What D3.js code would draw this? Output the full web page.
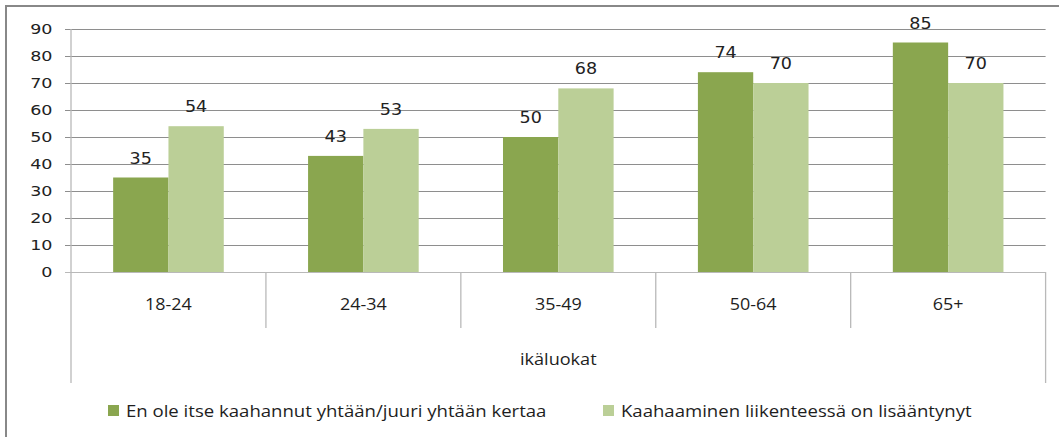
<!DOCTYPE html>
<html>
<head>
<meta charset="utf-8">
<script src="https://cdn.jsdelivr.net/npm/d3@7"></script>
<style>
  html, body { margin: 0; padding: 0; background: #fff; }
  svg { display: block; }
</style>
</head>
<body>
<svg id="chart" width="1059" height="437"></svg>
<script>
"use strict";

// data
var categories = ["18-24", "24-34", "35-49", "50-64", "65+"];
var seriesNames = [
    "En ole itse kaahannut yhtään/juuri yhtään kertaa",
    "Kaahaaminen liikenteessä on lisääntynyt"
];
var seriesDark = [35, 43, 50, 74, 85];
var seriesLight = [54, 53, 68, 70, 70];
var yTicks = [0, 10, 20, 30, 40, 50, 60, 70, 80, 90];
var axisTitle = "ikäluokat";

(function () {
    var colors = ["#8aa64f", "#bbcf97"];
    var series = [seriesDark, seriesLight];

    var svg = d3.select("#chart");

    // stretch text horizontally like the original rendering
    function stretch(sel, k) {
        sel.each(function () {
            var len = this.getComputedTextLength();
            d3.select(this)
                .attr("textLength", len * k)
                .attr("lengthAdjust", "spacingAndGlyphs");
        });
    }

    // outer frame (clipped on the right / bottom in the original)
    svg.append("rect")
        .attr("x", 6).attr("y", 6)
        .attr("width", 1070).attr("height", 450)
        .attr("fill", "#fff")
        .attr("stroke", "#888")
        .attr("stroke-width", 2);

    var plotLeft = 71, plotRight = 1045.6, plotTop = 29, plotBottom = 272;

    var x = d3.scaleBand()
        .domain(categories)
        .range([plotLeft, plotRight]);

    var xs = d3.scaleBand()
        .domain([0, 1])
        .range([0, x.bandwidth()])
        .paddingOuter(0.762);

    var y = d3.scaleLinear()
        .domain([0, 90])
        .range([plotBottom, plotTop]);

    // gridlines
    svg.append("g")
        .selectAll("line")
        .data(yTicks.filter(function (d) { return d > 0; }))
        .enter().append("line")
        .attr("x1", 65).attr("x2", plotRight)
        .attr("y1", function (d) { return Math.round(y(d)) + 0.5; })
        .attr("y2", function (d) { return Math.round(y(d)) + 0.5; })
        .attr("stroke", "#8e8e8e")
        .attr("stroke-width", 1);

    // y tick labels
    var yLabels = svg.append("g")
        .selectAll("text")
        .data(yTicks)
        .enter().append("text")
        .attr("x", 52.5)
        .attr("y", function (d) { return y(d) + 5; })
        .attr("text-anchor", "end")
        .style("font-family", "'DejaVu Sans', Verdana, sans-serif")
        .style("font-size", "14px")
        .style("fill", "#222")
        .text(function (d) { return d; });
    stretch(yLabels, 1.25);

    // bars
    var groups = svg.append("g")
        .selectAll("g")
        .data(series)
        .enter().append("g")
        .attr("fill", function (d, i) { return colors[i]; });

    groups.each(function (vals, si) {
        d3.select(this).selectAll("rect")
            .data(vals)
            .enter().append("rect")
            .attr("x", function (d, i) { return x(categories[i]) + xs(si); })
            .attr("width", xs.bandwidth())
            .attr("y", function (d) { return y(d); })
            .attr("height", function (d) { return plotBottom - y(d); });
    });

    // value labels
    groups.each(function (vals, si) {
        var t = d3.select(this).selectAll("text")
            .data(vals)
            .enter().append("text")
            .attr("x", function (d, i) { return x(categories[i]) + xs(si) + xs.bandwidth() / 2; })
            .attr("y", function (d) { return y(d) - 14; })
            .attr("text-anchor", "middle")
            .style("font-family", "'DejaVu Sans', Verdana, sans-serif")
            .style("font-size", "15px")
            .style("fill", "#222")
            .text(function (d) { return d; });
        stretch(t, 1.17);
    });

    // axis lines
    var axisColor = "#b9b9b9";
    svg.append("line")
        .attr("x1", 65).attr("x2", plotRight)
        .attr("y1", plotBottom + 0.5).attr("y2", plotBottom + 0.5)
        .attr("stroke", axisColor);

    var edges = categories.map(function (c) { return x(c); }).concat([plotRight]);
    svg.append("g")
        .selectAll("line")
        .data(edges)
        .enter().append("line")
        .attr("x1", function (d) { return d; })
        .attr("x2", function (d) { return d; })
        .attr("y1", function (d, i) { return i === 0 ? plotTop : plotBottom; })
        .attr("y2", function (d, i) { return (i === 0 || i === edges.length - 1) ? 383 : 328; })
        .attr("stroke", axisColor)
        .attr("stroke-width", 1.3);

    // category labels
    var catLabels = svg.append("g")
        .selectAll("text")
        .data(categories)
        .enter().append("text")
        .attr("x", function (d) { return x(d) + x.bandwidth() / 2; })
        .attr("y", 309.5)
        .attr("text-anchor", "middle")
        .style("font-family", "'Open Sans', sans-serif")
        .style("font-size", "16px")
        .style("fill", "#1e1e1e")
        .text(function (d) { return d; });
    stretch(catLabels, 1.12);

    // axis title
    var title = svg.append("text")
        .attr("x", (plotLeft + plotRight) / 2)
        .attr("y", 365)
        .attr("text-anchor", "middle")
        .style("font-family", "'Open Sans', sans-serif")
        .style("font-size", "16px")
        .style("fill", "#1e1e1e")
        .text(axisTitle);
    stretch(title, 1.13);

    // legend
    var legendX = [108, 603];
    var legend = svg.append("g")
        .selectAll("g")
        .data(seriesNames)
        .enter().append("g")
        .attr("transform", function (d, i) { return "translate(" + legendX[i] + ",405)"; });

    legend.append("rect")
        .attr("width", 11).attr("height", 11)
        .attr("fill", function (d, i) { return colors[i]; });

    var legendText = legend.append("text")
        .attr("x", 18)
        .attr("y", 11.5)
        .style("font-family", "'Open Sans', sans-serif")
        .style("font-size", "16px")
        .style("fill", "#1e1e1e")
        .text(function (d) { return d; });
    stretch(legendText, 1.16);
})();
</script>
</body>
</html>
